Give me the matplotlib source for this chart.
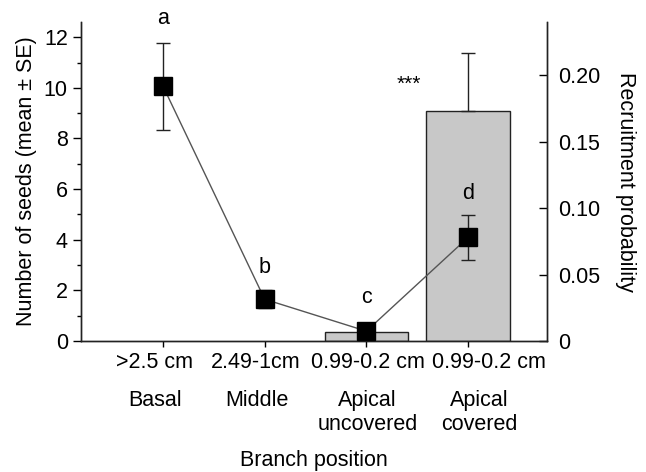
import numpy as np
import matplotlib
matplotlib.use('Agg')
import matplotlib.pyplot as plt
import matplotlib.transforms as mtransforms
from matplotlib.ticker import MultipleLocator

plt.rcParams['font.family'] = ['Liberation Sans', 'DejaVu Sans']
plt.rcParams['font.size'] = 15.5

# Data
size_labels = ['>2.5 cm', '2.49-1cm', '0.99-0.2 cm', '0.99-0.2 cm']
position_labels = ['Basal', 'Middle', 'Apical\nuncovered', 'Apical\ncovered']
seeds_mean = [10.07, 1.65, 0.39, 4.09]
seeds_se_low = [1.72, 0.35, 0.12, 0.90]
seeds_se_high = [1.72, 0.35, 0.12, 0.90]
letters = ['a', 'b', 'c', 'd']
letter_y = [12.75, 2.92, 1.70, 5.84]

recruit_idx = [2, 3]
recruit_prob = [0.0068, 0.173]
recruit_err = [0.0, 0.044]

x = np.arange(len(size_labels))

# label offsets from the ticks (the labels in the original are not centred)
size_shift = [-0.08, -0.09, 0.02, 0.21]
pos_shift = [-0.08, -0.08, 0.01, 0.11]

fig = plt.figure(figsize=(6.46, 4.72), dpi=100)
ax = fig.add_axes([0.1254, 0.2775, 0.7213, 0.6759])
ax2 = ax.twinx()

# bars on the right axis (recruitment)
ax2.bar(x[recruit_idx], recruit_prob, width=0.82, color='#c8c8c8',
        edgecolor='#222222', linewidth=1.0)
ax2.errorbar(x[recruit_idx][1:], recruit_prob[1:], yerr=[[0], recruit_err[1:]],
             fmt='none', ecolor='#222222', elinewidth=1.0, capsize=5)
ax2.set_ylim(0, 0.24)
ax2.set_yticks([0, 0.05, 0.10, 0.15, 0.20])
ax2.set_yticklabels(['0', '0.05', '0.10', '0.15', '0.20'])
ax2.tick_params(axis='y', direction='in', length=6, width=1, pad=8)
ax2.set_ylabel('Recruitment probability', rotation=-90, labelpad=26)

# seeds line on the left axis
ax.set_zorder(ax2.get_zorder() + 1)
ax.patch.set_visible(False)
ax.plot(x, seeds_mean, '-', color='#555555', linewidth=1.0, zorder=2)
ax.errorbar(x, seeds_mean, yerr=[seeds_se_low, seeds_se_high], fmt='none',
            ecolor='#222222', elinewidth=1.0, capsize=5, zorder=3)
ax.plot(x, seeds_mean, 's', color='black', markersize=12.5, zorder=4)

for xi, yi, t in zip(x, letter_y, letters):
    ax.text(xi, yi, t, ha='center', va='center', fontsize=15.5, clip_on=False)
ax.text(2.42, 10.15, '***', ha='center', va='center', fontsize=15)

ax.set_xlim(-0.806, 3.776)
ax.set_ylim(0, 12.6)
ax.yaxis.set_major_locator(MultipleLocator(2))
ax.yaxis.set_minor_locator(MultipleLocator(1))
ax.tick_params(axis='y', which='major', direction='out', length=6, width=1)
ax.tick_params(axis='y', which='minor', direction='out', length=3, width=1)
ax.set_xticks(x)
ax.set_xticklabels([])
ax.tick_params(axis='x', direction='out', length=4, width=1)
ax.set_ylabel('Number of seeds (mean \u00b1 SE)', labelpad=5)

trans = mtransforms.blended_transform_factory(ax.transData, ax.transAxes)
for xi, dx, t in zip(x, size_shift, size_labels):
    ax.text(xi + dx, -0.066, t, transform=trans, ha='center', va='center')
for xi, dx, t in zip(x, pos_shift, position_labels):
    ax.text(xi + dx, -0.155, t, transform=trans, ha='center', va='top',
            linespacing=1.15)
ax.text(0.5, -0.373, 'Branch position', transform=ax.transAxes,
        ha='center', va='center')

for a in (ax, ax2):
    a.spines['top'].set_visible(False)
    for s in ('left', 'right', 'bottom'):
        a.spines[s].set_color('#222222')
        a.spines[s].set_linewidth(1.0)

fig.savefig('out.png', dpi=100)
